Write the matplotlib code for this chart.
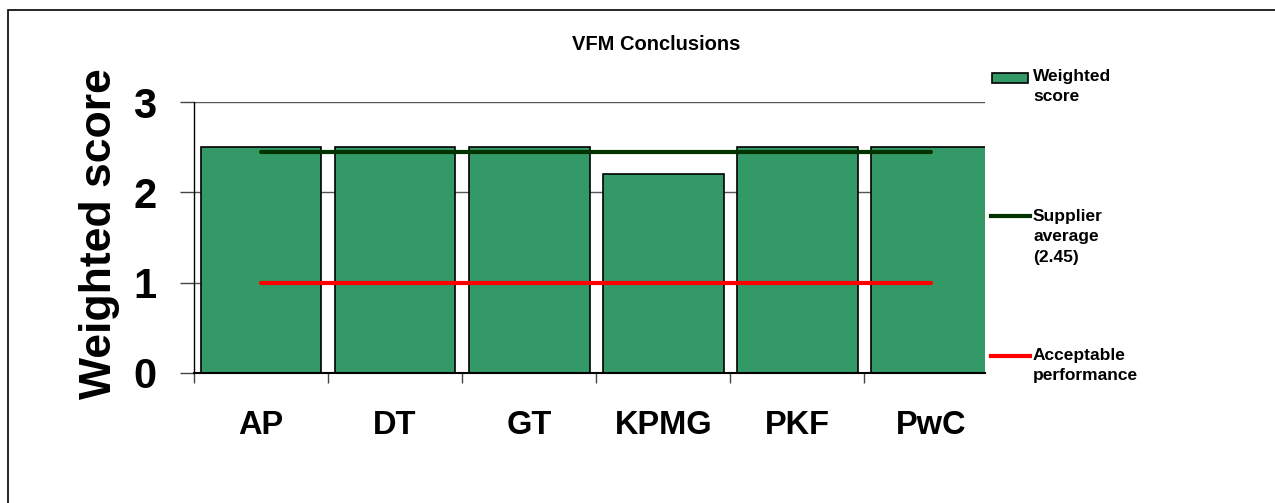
import matplotlib
matplotlib.use("Agg")
import matplotlib.pyplot as plt
from matplotlib.patches import Rectangle
from matplotlib.lines import Line2D
import numpy as np

plt.rcParams['font.family'] = ['Liberation Sans', 'DejaVu Sans']
plt.rcParams['font.weight'] = 'bold'

suppliers = ['AP', 'DT', 'GT', 'KPMG', 'PKF', 'PwC']
weighted_score = [2.5, 2.5, 2.5, 2.2, 2.5, 2.5]
supplier_average = 2.45
acceptable = 1.0
y_ticks = [0, 1, 2, 3]

bar_color = '#339966'
avg_color = '#003300'
acc_color = '#ff0000'

fig = plt.figure(figsize=(12.75, 5.03), dpi=100)
ax = fig.add_axes([194 / 1275, 130 / 503, 791 / 1275, 271 / 503])

x = np.arange(len(suppliers))
ax.bar(x, weighted_score, width=0.9, color=bar_color, edgecolor='black',
       linewidth=1.2, zorder=2)
ax.plot([x[0], x[-1]], [supplier_average] * 2, color=avg_color, lw=3,
        solid_capstyle='round', zorder=3)
ax.plot([x[0], x[-1]], [acceptable] * 2, color=acc_color, lw=3,
        solid_capstyle='round', zorder=3)

ax.set_xlim(-0.5, 5.4)
ax.set_ylim(0, 3)
ax.set_yticks(y_ticks)
ax.set_yticklabels([str(t) for t in y_ticks], fontsize=30, fontweight='bold')
ax.tick_params(axis='y', length=10, width=1, pad=17, color='#444444')
ax.set_xticks(x)
ax.set_xticklabels(suppliers, fontsize=23.5, fontweight='bold')
ax.tick_params(axis='x', which='major', length=0, pad=27)
ax.set_xticks(np.arange(-0.5, 5.5, 1.0), minor=True)
ax.tick_params(axis='x', which='minor', length=7, width=1, color='#444444')

ax.yaxis.grid(True, color='#555555', lw=1, zorder=0)
ax.set_axisbelow(True)
for s in ['top', 'right']:
    ax.spines[s].set_visible(False)
ax.spines['left'].set_linewidth(1)
ax.spines['bottom'].set_linewidth(1.5)

fig.text(100 / 1275, 1 - 234 / 503, 'Weighted score', rotation=90,
         fontsize=32, fontweight='bold', ha='center', va='center')
fig.text(656 / 1275, 1 - 44 / 503, 'VFM Conclusions', fontsize=14.5,
         fontweight='bold', ha='center', va='center')

# legend drawn by hand
W, H = 1275, 503
fig.add_artist(Rectangle((992 / W, 1 - 83 / H), 36 / W, 10 / H,
                         transform=fig.transFigure, facecolor=bar_color,
                         edgecolor='black', lw=1.2))
fig.add_artist(Line2D([991 / W, 1030 / W], [1 - 216 / H] * 2,
                      transform=fig.transFigure, color=avg_color, lw=3))
fig.add_artist(Line2D([991 / W, 1030 / W], [1 - 356 / H] * 2,
                      transform=fig.transFigure, color=acc_color, lw=3))
leg_labels = ['Weighted\nscore', 'Supplier\naverage\n(2.45)', 'Acceptable\nperformance']
leg_tops = [69, 209, 348]
for lab, top in zip(leg_labels, leg_tops):
    fig.text(1033 / W, 1 - top / H, lab, fontsize=12.5, fontweight='bold',
             ha='left', va='top', linespacing=1.45)

# outer frame
fig.add_artist(Rectangle((8 / W, -0.1), 1.2, 1.1 - 10 / H,
                         transform=fig.transFigure, fill=False,
                         edgecolor='black', lw=1.2))

fig.savefig('out.png', dpi=100)
